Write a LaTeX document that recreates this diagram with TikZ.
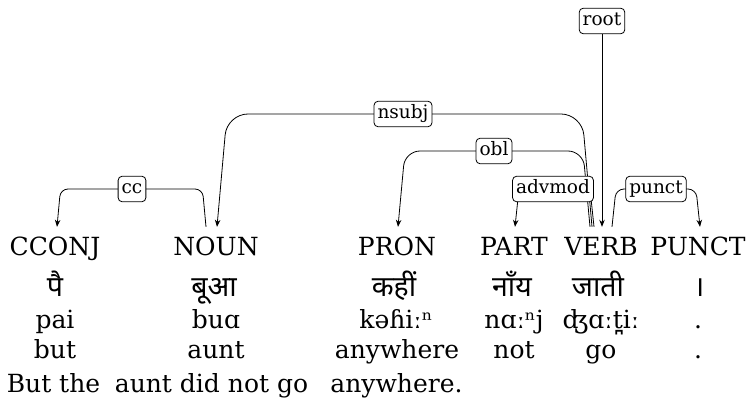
\documentclass[tikz,border=0pt]{standalone}
\usepackage{fontspec}
\setmainfont{DejaVu Serif}
\newfontfamily\deva[Script=Devanagari]{Noto Sans}
\usetikzlibrary{arrows.meta,calc}
\pgfdeclarelayer{background}
\pgfsetlayers{background,main}
\begin{document}
\begin{tikzpicture}[x=1pt,y=-1pt,
  wpos/.style={font=\fontsize{25}{30}\selectfont, anchor=base, inner sep=0pt, text height=29pt, text depth=6pt},
  wrow/.style={font=\fontsize{25}{30}\selectfont, anchor=base, inner sep=0pt},
  wdeva/.style={font=\deva\fontsize{28.5}{30}\selectfont, anchor=base, inner sep=0pt},
  deplabel/.style={draw, rounded corners=4pt, fill=white, line width=0.8pt, inner sep=3.5pt,
     font=\fontsize{18.5}{20}\selectfont, text height=14pt, text depth=4.5pt},
  deparc/.style={line width=0.8pt},
  deptip/.style={-{Stealth[length=7pt,width=5.5pt]}}]
\useasboundingbox (0,0) rectangle (748,401);
% POS row
\node[wpos] (cconj) at (55,256) {CCONJ};
\node[wpos] (noun) at (216,256) {NOUN};
\node[wpos] (pron) at (397,256) {PRON};
\node[wpos] (part) at (514,256) {PART};
\node[wpos] (verb) at (601,256) {VERB};
\node[wpos] (punctw) at (698,256) {PUNCT};
% Devanagari row
\node[wdeva] (d1) at (55,297) {पै};
\node[wdeva] (d2) at (214,297) {बूआ};
\node[wdeva] (d3) at (394,297) {कहीं};
\node[wdeva] (d4) at (512,297) {नाँय};
\node[wdeva] (d5) at (598,297) {जाती};
\node[wdeva] (d6) at (699,297) {।};
% transliteration row
\node[wrow] (t1) at (55,328) {pai};
\node[wrow] (t2) at (216,328) {buɑ};
\node[wrow] (t3) at (396,328) {kəɦiːⁿ};
\node[wrow] (t4) at (514,328) {nɑːⁿj};
\node[wrow] (t5) at (601,328) {ʤɑːt̪iː};
\node[wrow] (t6) at (698,328) {.};
% gloss row
\node[wrow] (g1) at (55,358) {but};
\node[wrow] (g2) at (216,358) {aunt};
\node[wrow] (g3) at (397,358) {anywhere};
\node[wrow] (g4) at (514,358) {not};
\node[wrow] (g5) at (601,358) {go};
\node[wrow] (g6) at (698,358) {.};
% free translation
\node[wrow] (f1) at (53.5,392) {But the};
\node[wrow] (f2) at (211.5,392) {aunt did not go};
\node[wrow] (f3) at (396.5,392) {anywhere.};
% labels
\node[deplabel] (lroot) at (602,21) {root};
\node[deplabel] (lnsubj) at (403,114) {nsubj};
\node[deplabel] (lobl) at (494,151) {obl};
\node[deplabel] (ladvmod) at (553,189) {advmod};
\node[deplabel] (lpunct) at (656,189) {punct};
\node[deplabel] (lcc) at (132,189) {cc};
% arcs
\begin{pgfonlayer}{background}
\draw[deparc, deptip, rounded corners=7.5pt]
  ($(noun.north)+(-10pt,0)$) -- ($(noun.north |- lcc)+(-13.5pt,0)$)
  -- ($(cconj.north |- lcc)+(5.5pt,0)$) -- ($(cconj.north)+(2pt,0)$);
\draw[deparc, deptip, rounded corners=21pt]
  ($(verb.north)+(-9pt,0)$) -- ($(verb.north |- lnsubj)+(-19pt,0)$)
  -- ($(noun.north |- lnsubj)+(11pt,0)$) -- ($(noun.north)+(1pt,0)$);
\draw[deparc, deptip, rounded corners=15pt]
  ($(verb.north)+(-11pt,0)$) -- ($(verb.north |- lobl)+(-18pt,0)$)
  -- ($(pron.north |- lobl)+(8pt,0)$) -- ($(pron.north)+(1pt,0)$);
\draw[deparc, deptip, rounded corners=8pt]
  ($(verb.north)+(-7pt,0)$) -- ($(verb.north |- ladvmod)+(-11pt,0)$)
  -- ($(part.north |- ladvmod)+(5pt,0)$) -- ($(part.north)+(1pt,0)$);
\draw[deparc, deptip, rounded corners=8pt]
  ($(verb.north)+(11pt,0)$) -- ($(verb.north |- lpunct)+(15pt,0)$)
  -- ($(punctw.north |- lpunct)+(-2pt,0)$) -- ($(punctw.north)+(2pt,0)$);
\draw[deparc, deptip] (lroot.south) -- (lroot.south |- verb.north);
\end{pgfonlayer}
\end{tikzpicture}
\end{document}
